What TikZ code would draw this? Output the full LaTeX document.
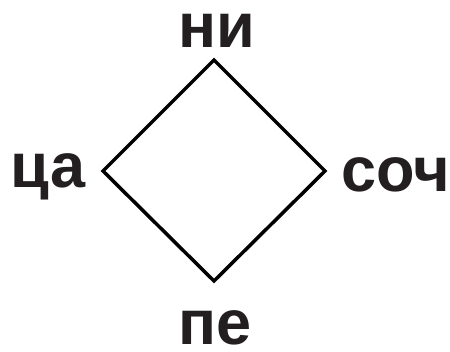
\documentclass[tikz,border=0pt]{standalone}
\usepackage{fontspec}
\setmainfont{Liberation Sans}
\definecolor{ink}{HTML}{231F20}
\tikzset{
  lbl/.style={font=\fontsize{63}{63}\selectfont\bfseries, text=ink, inner sep=0pt, anchor=base, text height=34pt, text depth=7pt},
  edge/.style={line width=3.5pt, line join=miter, draw=black}
}
\begin{document}
\begin{tikzpicture}[x=1pt,y=-1pt]
\useasboundingbox (0,0) rectangle (450,352);
\coordinate (T) at (214,60);
\coordinate (L) at (103,171);
\coordinate (R) at (325,171);
\coordinate (B) at (214,281);
\draw[edge] (T) -- (R) -- (B) -- (L) -- cycle;
\node[lbl] (ni) at (216.5,48) {ни};
\node[lbl] (ca) at (48,188) {ца};
\node[lbl] (soch) at (396,192) {соч};
\node[lbl] (pe) at (215,345) {пе};
\end{tikzpicture}
\end{document}
